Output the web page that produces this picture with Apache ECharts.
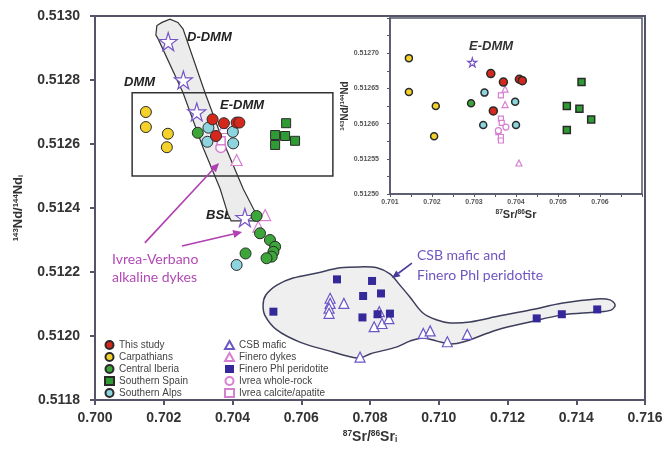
<!DOCTYPE html>
<html>
<head>
<meta charset="utf-8">
<script src="https://cdn.jsdelivr.net/npm/echarts@6/dist/echarts.min.js"></script>
<style>
  html, body { margin: 0; padding: 0; background: #fff; }
  #main { width: 666px; height: 456px; }
</style>
</head>
<body>
<div id="main"></div>
<script>
// main diagram: [87Sr/86Sr_i, 143Nd/144Nd_i]
const thisStudy = [[0.70342, 0.512677], [0.70375, 0.512665], [0.70412, 0.512667], [0.70420, 0.512667], [0.70352, 0.512625]]
const carpathians = [[0.70148, 0.512700], [0.70148, 0.512653], [0.70212, 0.512632], [0.70209, 0.512590]]
const centralIberia = [[0.70299, 0.512635], [0.70470, 0.512375], [0.70480, 0.512321], [0.70509, 0.512300],
    [0.70524, 0.512279], [0.70519, 0.512263], [0.70514, 0.512248], [0.70499, 0.512243], [0.70438, 0.512258]]
const southernSpain = [[0.70556, 0.512665], [0.70524, 0.512628], [0.70553, 0.512625], [0.70582, 0.512610], [0.70524, 0.512597]]
const southernAlps = [[0.70330, 0.512651], [0.70401, 0.512638], [0.70327, 0.512607], [0.70402, 0.512602], [0.70412, 0.512222]]
const csbMafic = [[0.70684, 0.512118], [0.70684, 0.512102], [0.70681, 0.512087], [0.70681, 0.512071], [0.70724, 0.512102],
    [0.70827, 0.512076], [0.70812, 0.512029], [0.70835, 0.512039], [0.70855, 0.512054], [0.70955, 0.512008],
    [0.70975, 0.512016], [0.71025, 0.511982], [0.71083, 0.512005], [0.70771, 0.511934]]
const fineroDykes = [[0.70375, 0.512650], [0.70412, 0.512550], [0.70495, 0.512378], [0.70475, 0.512342]]
const fineroPhl = [[0.70519, 0.512076], [0.70704, 0.512177], [0.70806, 0.512172], [0.70780, 0.512125], [0.70832, 0.512133],
    [0.70778, 0.512058], [0.70822, 0.512068], [0.70858, 0.512070], [0.71285, 0.512055], [0.71358, 0.512068], [0.71461, 0.512083]]
const ivreaWholeRock = [[0.70366, 0.512589]]
const ivreaCalcite = [[0.70367, 0.512610]]
const mantle = [[0.70213, 0.512920], [0.70257, 0.512800], [0.70296, 0.512700], [0.70436, 0.512370]]

// inset (zoom of the E-DMM box)
const inThisStudy = [[0.70340, 0.512671], [0.70370, 0.512659], [0.70408, 0.512663], [0.70415, 0.512661], [0.70346, 0.512618]]
const inCarpathians = [[0.70145, 0.512693], [0.70145, 0.512645], [0.70209, 0.512625], [0.70205, 0.512582]]
const inCentralIberia = [[0.70293, 0.512629]]
const inSouthernSpain = [[0.70556, 0.512659], [0.70521, 0.512625], [0.70551, 0.512621], [0.70579, 0.512606], [0.70521, 0.512591]]
const inSouthernAlps = [[0.70325, 0.512644], [0.70398, 0.512631], [0.70322, 0.512598], [0.70400, 0.512598]]
const inFineroDykes = [[0.70374, 0.512649], [0.70374, 0.512627], [0.70407, 0.512544]]
const inIvreaCalcite = [[0.70364, 0.512640], [0.70364, 0.512607], [0.70366, 0.512601], [0.70358, 0.512588], [0.70364, 0.512581], [0.70364, 0.512576]]
const inIvreaWholeRock = [[0.70358, 0.512590], [0.70376, 0.512595]]
const inMantle = [[0.70296, 0.512687]]

// outlines drawn under the points
const mantleBand = [[0.70177, 0.51294], [0.70180, 0.51297], [0.70195, 0.51298], [0.70218, 0.51299], [0.70241, 0.51298],
    [0.70256, 0.51296], [0.70320, 0.51276], [0.70372, 0.51261], [0.70431, 0.51246], [0.70474, 0.51237],
    [0.70468, 0.51236], [0.70396, 0.51236], [0.70387, 0.51238], [0.70364, 0.51246], [0.70314, 0.51259],
    [0.70256, 0.51276], [0.70183, 0.51293]]
const csbField = [[0.70489, 0.512097], [0.70497, 0.512128], [0.70529, 0.512159], [0.70576, 0.512181], [0.70646, 0.512197],
    [0.70713, 0.512213], [0.70771, 0.512216], [0.70820, 0.512213], [0.70858, 0.512194], [0.70887, 0.512159],
    [0.70916, 0.512122], [0.70954, 0.512072], [0.70995, 0.512050], [0.71033, 0.512041], [0.71091, 0.512044],
    [0.71178, 0.512063], [0.71265, 0.512081], [0.71361, 0.512103], [0.71460, 0.512116], [0.71498, 0.512113],
    [0.71513, 0.512097], [0.71501, 0.512081], [0.71460, 0.512075], [0.71361, 0.512066], [0.71265, 0.512044],
    [0.71169, 0.512019], [0.71071, 0.511981], [0.71033, 0.511975], [0.70995, 0.511984], [0.70954, 0.511994],
    [0.70916, 0.511984], [0.70879, 0.511966], [0.70800, 0.511944], [0.70771, 0.511931], [0.70730, 0.511938],
    [0.70692, 0.511950], [0.70596, 0.511981], [0.70529, 0.512019], [0.70495, 0.512063]]
const edmmBox = [[0.70108, 0.51276], [0.70692, 0.51276], [0.70692, 0.51250], [0.70108, 0.51250]]
const ivreaArrows = [[[0.70145, 0.512291], [0.70361, 0.512541]], [[0.70253, 0.512281], [0.70428, 0.512325]]]
const csbArrow = [[[0.70922, 0.512228], [0.70864, 0.512181]]]

const legendLeft = ['This study', 'Carpathians', 'Central Iberia', 'Southern Spain', 'Southern Alps']
const legendRight = ['CSB mafic', 'Finero dykes', 'Finero Phl peridotite', 'Ivrea whole-rock', 'Ivrea calcite/apatite']

const axisCol = '#55556a'
const font = 'Arial, "Liberation Sans", sans-serif'
const star = 'path://M50,0 L61,35 L98,35 L68,57 L79,91 L50,70 L21,91 L32,57 L2,35 L39,35 Z'

function pts(name, data, symbol, size, fill, stroke, bw, idx) {
    return {
        type: 'scatter', name, data, symbol, symbolSize: size,
        xAxisIndex: idx, yAxisIndex: idx, z: 5,
        itemStyle: { color: fill, borderColor: stroke, borderWidth: bw, opacity: 1 },
        emphasis: { disabled: true },
    }
}

function shape(points, style, smooth) {
    return {
        type: 'custom', silent: true, z: 2, data: points,
        renderItem: (params, api) => params.dataIndex ? null : {
            type: 'polygon',
            shape: { points: points.map(p => api.coord(p)), smooth },
            style,
        },
    }
}

function arrows(list, color, head) {
    return {
        type: 'custom', silent: true, z: 6, data: list.map((a, i) => [a[1][0], a[1][1], i]),
        renderItem: (params, api) => {
            const a = list[params.dataIndex]
            const p0 = api.coord(a[0]), p1 = api.coord(a[1])
            const ang = Math.atan2(p1[1] - p0[1], p1[0] - p0[0])
            const L = head, W = head * 0.45
            const bx = p1[0] - L * Math.cos(ang), by = p1[1] - L * Math.sin(ang)
            return {
                type: 'group', children: [
                    { type: 'line', shape: { x1: p0[0], y1: p0[1], x2: bx, y2: by }, style: { stroke: color, lineWidth: 1.6 } },
                    { type: 'polygon', shape: { points: [p1,
                        [bx + W * Math.sin(ang), by - W * Math.cos(ang)],
                        [bx - W * Math.sin(ang), by + W * Math.cos(ang)]] }, style: { fill: color } },
                ],
            }
        },
    }
}

const red = '#d5281d', yellow = '#f4d22a', green = '#3da63a', spain = '#2f9b35', cyan = '#8ed4de'
const violet = '#6c57c6', pink = '#d77fd1', navy = '#35289a', starCol = '#7654c6', edge = '#2a2a2a'

const richName = (size) => ({
    n: { fontSize: size, fontWeight: 'bold', color: '#333', fontFamily: font },
    s: { fontSize: size * 0.6, fontWeight: 'bold', color: '#333', fontFamily: font, verticalAlign: 'top', lineHeight: size * 0.8 },
    b: { fontSize: size * 0.6, fontWeight: 'bold', color: '#333', fontFamily: font, verticalAlign: 'bottom' },
})

const chart = echarts.init(document.getElementById('main'))
chart.setOption({
    animation: false,
    backgroundColor: '#fff',
    grid: [
        { left: 95, top: 16, width: 550, height: 384, show: true, borderColor: axisCol, borderWidth: 2 },
        { left: 390, top: 18, width: 252, height: 176, show: true, borderColor: axisCol, borderWidth: 1.5, backgroundColor: '#fff' },
    ],
    xAxis: [{
        type: 'value', gridIndex: 0, min: 0.700, max: 0.716, interval: 0.002,
        axisLine: { lineStyle: { color: axisCol, width: 2 } },
        axisTick: { length: 5, lineStyle: { color: axisCol, width: 2 } },
        axisLabel: { fontSize: 14, fontWeight: 'bold', color: '#333', fontFamily: font, margin: 11, formatter: v => v.toFixed(3) },
        splitLine: { show: false },
        name: '{s|87}{n|Sr/}{s|86}{n|Sr}{b|i}', nameLocation: 'middle', nameGap: 27,
        nameTextStyle: { rich: richName(14) },
    }, {
        type: 'value', gridIndex: 1, min: 0.701, max: 0.707, interval: 0.001,
        axisLine: { lineStyle: { color: axisCol, width: 1.5 } },
        axisTick: { length: 3, lineStyle: { color: axisCol } },
        minorTick: { show: true, splitNumber: 2, length: 3, lineStyle: { color: axisCol } },
        axisLabel: { fontSize: 7, fontWeight: 'bold', color: '#555', fontFamily: font, margin: 5, showMaxLabel: false, formatter: v => v.toFixed(3) },
        splitLine: { show: false },
        name: '{s|87}{n|Sr/}{s|86}{n|Sr}', nameLocation: 'middle', nameGap: 15,
        nameTextStyle: { rich: richName(11) },
    }],
    yAxis: [{
        type: 'value', gridIndex: 0, min: 0.5118, max: 0.5130, interval: 0.0002,
        axisLine: { lineStyle: { color: axisCol, width: 2 } },
        axisTick: { length: 5, lineStyle: { color: axisCol, width: 2 } },
        axisLabel: { fontSize: 14, fontWeight: 'bold', color: '#333', fontFamily: font, margin: 15, formatter: v => v.toFixed(4) },
        splitLine: { show: false },
        name: '{s|143}{n|Nd/}{s|144}{n|Nd}{b|i}', nameLocation: 'middle', nameGap: 70,
        nameTextStyle: { rich: richName(13) },
    }, {
        type: 'value', gridIndex: 1, min: 0.51250, max: 0.51275, interval: 0.00005,
        axisLine: { lineStyle: { color: axisCol, width: 1.5 } },
        axisTick: { length: 3, lineStyle: { color: axisCol } },
        minorTick: { show: true, splitNumber: 2, length: 3, lineStyle: { color: axisCol } },
        axisLabel: { fontSize: 7, fontWeight: 'bold', color: '#555', fontFamily: font, margin: 11, showMaxLabel: false, formatter: v => v.toFixed(5) },
        splitLine: { show: false },
        name: '{s|143}{n|Nd/}{s|144}{n|Nd}', nameLocation: 'middle', nameGap: 34,
        nameTextStyle: { rich: richName(10) },
    }],
    legend: [
        { data: legendLeft, orient: 'vertical', left: 99, top: 335, itemWidth: 9, itemHeight: 8, itemGap: 2,
          textStyle: { fontSize: 10, color: '#444', fontFamily: font, lineHeight: 10 }, selectedMode: false },
        { data: legendRight, orient: 'vertical', left: 219, top: 335, itemWidth: 9, itemHeight: 8, itemGap: 2,
          textStyle: { fontSize: 10, color: '#444', fontFamily: font, lineHeight: 10 }, selectedMode: false },
    ],
    graphic: [
        { type: 'text', left: 187, top: 31, style: { text: 'D-DMM', font: 'italic bold 13px Arial', fill: '#222' } },
        { type: 'text', left: 124, top: 76, style: { text: 'DMM', font: 'italic bold 13px Arial', fill: '#222' } },
        { type: 'text', left: 220, top: 99, style: { text: 'E-DMM', font: 'italic bold 13px Arial', fill: '#222' } },
        { type: 'text', left: 206, top: 209, style: { text: 'BSE', font: 'italic bold 13px Arial', fill: '#222' } },
        { type: 'text', left: 469, top: 40, z: 10, style: { text: 'E-DMM', font: 'italic bold 13px Arial', fill: '#333' } },
        { type: 'text', left: 112, top: 250, style: { text: 'Ivrea-Verbano\nalkaline dykes', font: '14px Lato', lineHeight: 18, fill: '#b24ab6' } },
        { type: 'text', left: 417, top: 245, style: { text: 'CSB mafic and\nFinero Phl peridotite', font: '14px Lato', lineHeight: 20, fill: '#6f55c2' } },
    ],
    series: [
        shape(csbField, { fill: '#efefef', stroke: '#3d3d5c', lineWidth: 1.5 }, 0.35),
        shape(mantleBand, { fill: '#ececec', stroke: '#333', lineWidth: 1.2 }, 0),
        shape(edmmBox, { fill: 'none', stroke: '#333', lineWidth: 1.5 }, 0),
        arrows(ivreaArrows, '#b040b2', 9),
        arrows(csbArrow, '#463a9c', 8),
        pts('Mantle reservoirs', mantle, star, 18, '#fff', starCol, 1.2, 0),
        pts('CSB mafic', csbMafic, 'triangle', 10, '#fff', violet, 1.2, 0),
        pts('Finero Phl peridotite', fineroPhl, 'rect', 8, navy, navy, 0, 0),
        pts('Finero dykes', fineroDykes, 'triangle', 11, '#fff', pink, 1.2, 0),
        pts('Ivrea whole-rock', ivreaWholeRock, 'circle', 10, '#fff', pink, 1.5, 0),
        pts('Ivrea calcite/apatite', ivreaCalcite, 'rect', 8, '#fff', pink, 1.5, 0),
        pts('Carpathians', carpathians, 'circle', 11, yellow, edge, 1, 0),
        pts('Central Iberia', centralIberia, 'circle', 11, green, edge, 1, 0),
        pts('Southern Spain', southernSpain, 'rect', 9, spain, edge, 1, 0),
        pts('Southern Alps', southernAlps, 'circle', 11, cyan, edge, 1, 0),
        pts('This study', thisStudy, 'circle', 11, red, edge, 1, 0),
        pts('Mantle reservoirs', inMantle, star, 9, '#fff', starCol, 1.2, 1),
        pts('Finero dykes', inFineroDykes, 'triangle', 6, '#fff', pink, 1.2, 1),
        pts('Ivrea calcite/apatite', inIvreaCalcite, 'rect', 5, '#fff', pink, 1.2, 1),
        pts('Ivrea whole-rock', inIvreaWholeRock, 'circle', 6, '#fff', pink, 1.2, 1),
        pts('Carpathians', inCarpathians, 'circle', 7, yellow, edge, 1.5, 1),
        pts('Central Iberia', inCentralIberia, 'circle', 7, green, edge, 1.5, 1),
        pts('Southern Spain', inSouthernSpain, 'rect', 7, spain, edge, 1.5, 1),
        pts('Southern Alps', inSouthernAlps, 'circle', 7, cyan, edge, 1.5, 1),
        pts('This study', inThisStudy, 'circle', 8, red, edge, 1.5, 1),
    ],
})
</script>
</body>
</html>
